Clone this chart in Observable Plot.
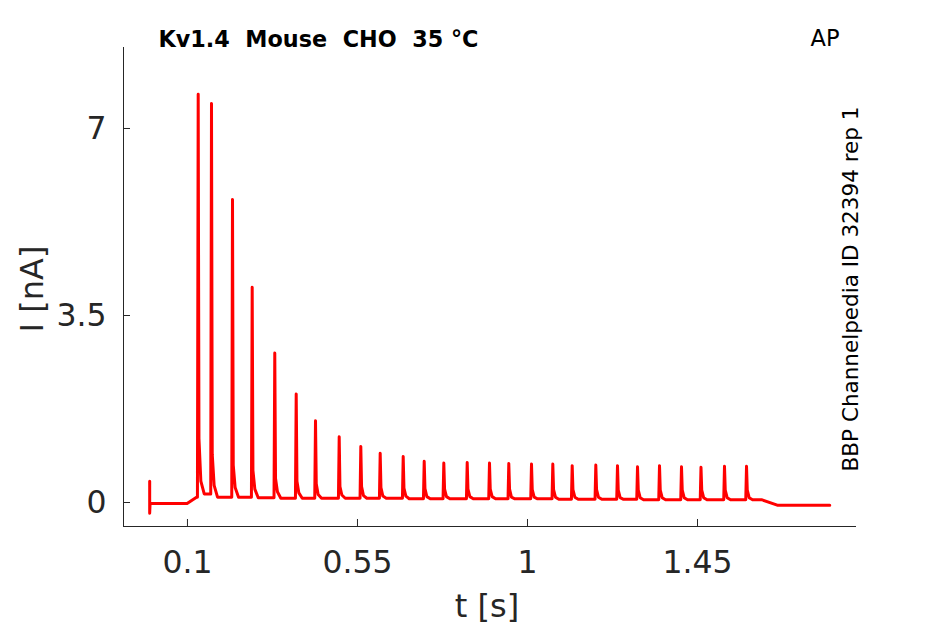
<!DOCTYPE html>
<html><head><meta charset="utf-8">
<script src="https://cdn.jsdelivr.net/npm/d3@7"></script>
<script src="https://cdn.jsdelivr.net/npm/@observablehq/plot@0.6"></script>
<style>
body{margin:0;background:#fff}
svg text{white-space:pre}
</style>
</head><body><div id="chart"></div>
<script>
// ---- text ----
const titleText = "Kv1.4  Mouse  CHO  35 °C";
const protocolText = "AP";
const idText = "BBP Channelpedia ID 32394 rep 1";
const xLabel = "t [s]";
const yLabel = "I [nA]";

// ---- axes ----
const xDomain = [-0.0693, 1.8708];
const yDomain = [-0.449, 8.516];
const xTicks = [0.1, 0.55, 1, 1.45];
const xTickLabels = ["0.1", "0.55", "1", "1.45"];
const yTicks = [0, 3.5, 7];
const yTickLabels = ["0", "3.5", "7"];

// ---- trace: before stimulus ----
const preT = [0, 0, 0.001, 0.099, 0.124];
const preI = [0.40, -0.20, -0.02, -0.02, 0.10];

// ---- spikes (time s, peak nA, tail values, baseline before spike) ----
const spikeTime = [0.1284, 0.1636, 0.2192, 0.2713, 0.3311, 0.3878, 0.4389, 0.5016, 0.5588, 0.6101,
  0.6710, 0.7266, 0.7785, 0.8404, 0.8994, 0.9505, 1.0106, 1.0670, 1.1183, 1.1808,
  1.2382, 1.2912, 1.3494, 1.4076, 1.4592, 1.5214, 1.5797];
const spikePeak = [7.64, 7.47, 5.67, 4.03, 2.80, 2.03, 1.53, 1.23, 1.05, 0.92,
  0.86, 0.77, 0.74, 0.75, 0.74, 0.73, 0.72, 0.72, 0.69, 0.70,
  0.69, 0.67, 0.69, 0.67, 0.66, 0.68, 0.68];
const tailA = [1.20, 0.90, 0.70, 0.60, 0.45, 0.40, 0.35, 0.30, 0.30, 0.28,
  0.27, 0.26, 0.25, 0.25, 0.25, 0.25, 0.24, 0.24, 0.24, 0.24,
  0.23, 0.23, 0.23, 0.23, 0.23, 0.23, 0.23];
const tailB = [0.40, 0.32, 0.28, 0.25, 0.20, 0.18, 0.15, 0.14, 0.13, 0.12,
  0.12, 0.11, 0.11, 0.11, 0.11, 0.10, 0.10, 0.10, 0.10, 0.10,
  0.09, 0.09, 0.09, 0.09, 0.09, 0.09, 0.09];
const spikeBase = [0.10, 0.16, 0.10, 0.10, 0.09, 0.08, 0.08, 0.08, 0.08, 0.08,
  0.08, 0.07, 0.07, 0.07, 0.07, 0.07, 0.07, 0.07, 0.06, 0.06,
  0.06, 0.06, 0.05, 0.05, 0.05, 0.05, 0.05];

// ---- trace: after stimulus ----
const postT = [1.621, 1.661, 1.800];
const postI = [0.05, -0.05, -0.05];

// build the polyline table from the arrays above
const trace = [];
preT.forEach((t, k) => trace.push({t, i: preI[k]}));
spikeTime.forEach((t, k) => {
  const after = k + 1 < spikeBase.length ? spikeBase[k + 1] : postI[0];
  trace.push({t: t - 0.002, i: spikeBase[k]});
  trace.push({t: t, i: spikePeak[k]});
  trace.push({t: t + 0.002, i: tailA[k]});
  trace.push({t: t + 0.007, i: tailB[k]});
  trace.push({t: t + 0.016, i: after});
});
postT.forEach((t, k) => trace.push({t, i: postI[k]}));

const axisColor = "#262626";
const font = "DejaVu Sans";

const chart = Plot.plot({
  width: 945,
  height: 624,
  marginLeft: 123,
  marginRight: 89,
  marginTop: 47,
  marginBottom: 98,
  style: {fontFamily: font, color: axisColor, background: "#fff", overflow: "visible"},
  x: {domain: xDomain},
  y: {domain: yDomain},
  marks: [
    Plot.ruleX([xDomain[0]], {stroke: axisColor, strokeWidth: 1}),
    Plot.ruleY([yDomain[0]], {stroke: axisColor, strokeWidth: 1}),
    Plot.axisX({ticks: xTicks, tickFormat: (d, k) => xTickLabels[k], tickSize: -7, tickPadding: 31.4,
      fontSize: 31.5, label: null, stroke: axisColor, fill: axisColor}),
    Plot.axisY({ticks: yTicks, tickFormat: (d, k) => yTickLabels[k], tickSize: -7, tickPadding: 24,
      fontSize: 31.5, label: null, stroke: axisColor, fill: axisColor}),
    Plot.line(trace, {x: "t", y: "i", stroke: "#ff0000", strokeWidth: 3, curve: "linear"}),
    Plot.text([titleText], {frameAnchor: "top-left", dx: 35, dy: -1, textAnchor: "start", lineAnchor: "bottom",
      fontWeight: "bold", fontSize: 22.3, fill: "#000"}),
    Plot.text([protocolText], {frameAnchor: "top-right", dx: -17, dy: -2, textAnchor: "end", lineAnchor: "bottom",
      fontSize: 22.5, fill: "#000"}),
    Plot.text([idText], {frameAnchor: "right", rotate: -90, dx: 1, dy: 2, textAnchor: "middle", lineAnchor: "bottom",
      fontSize: 21.5, fill: "#000"}),
    Plot.text([xLabel], {frameAnchor: "bottom", dx: -3, dy: 90, textAnchor: "middle", lineAnchor: "bottom",
      fontSize: 32, fill: axisColor}),
    Plot.text([yLabel], {frameAnchor: "left", rotate: -90, dx: -81, dy: 2, textAnchor: "middle", lineAnchor: "bottom",
      fontSize: 32, fill: axisColor})
  ]
});
document.getElementById("chart").appendChild(chart);
</script></body></html>
